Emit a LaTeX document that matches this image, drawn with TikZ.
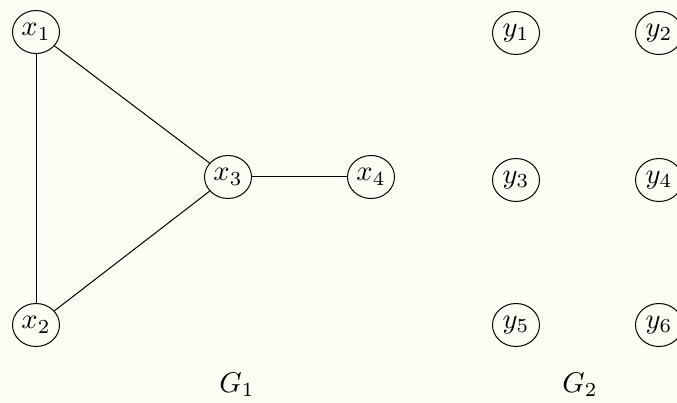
\documentclass[tikz,border=0pt]{standalone}
\usepackage{graphicx}
\usetikzlibrary{shapes.geometric}
\definecolor{bgcream}{RGB}{254,253,244}
\newcommand{\sbx}[1]{\scalebox{2.85}{$#1$}}
\tikzset{
  vtx/.style={draw, ellipse, line width=1pt, minimum width=47pt, minimum height=43pt, inner sep=0pt},
  lbl/.style={inner sep=0pt},
  edge/.style={line width=1pt}
}
\begin{document}
\begin{tikzpicture}[x=1pt,y=-1pt]
\fill[bgcream] (0,0) rectangle (677,403);
\useasboundingbox (0,0) rectangle (677,403);
\clip (0,0) rectangle (677,403);
\node[vtx] (x1) at (36,32) {\sbx{x_1}};
\node[vtx] (x2) at (36,325) {\sbx{x_2}};
\node[vtx] (x3) at (228,177) {\sbx{x_3}};
\node[vtx] (x4) at (371,177) {\sbx{x_4}};
\node[vtx] (y1) at (516,33) {\sbx{y_1}};
\node[vtx] (y2) at (659,33) {\sbx{y_2}};
\node[vtx] (y3) at (516,180) {\sbx{y_3}};
\node[vtx] (y4) at (659,180) {\sbx{y_4}};
\node[vtx] (y5) at (516,325) {\sbx{y_5}};
\node[vtx] (y6) at (659,325) {\sbx{y_6}};
\draw[edge] (x1) -- (x2);
\draw[edge] (x1) -- (x3);
\draw[edge] (x2) -- (x3);
\draw[edge] (x3) -- (x4);
\node[lbl] (g1) at (237,385) {\sbx{G_1}};
\node[lbl] (g2) at (580,385) {\sbx{G_2}};
\end{tikzpicture}
\end{document}
